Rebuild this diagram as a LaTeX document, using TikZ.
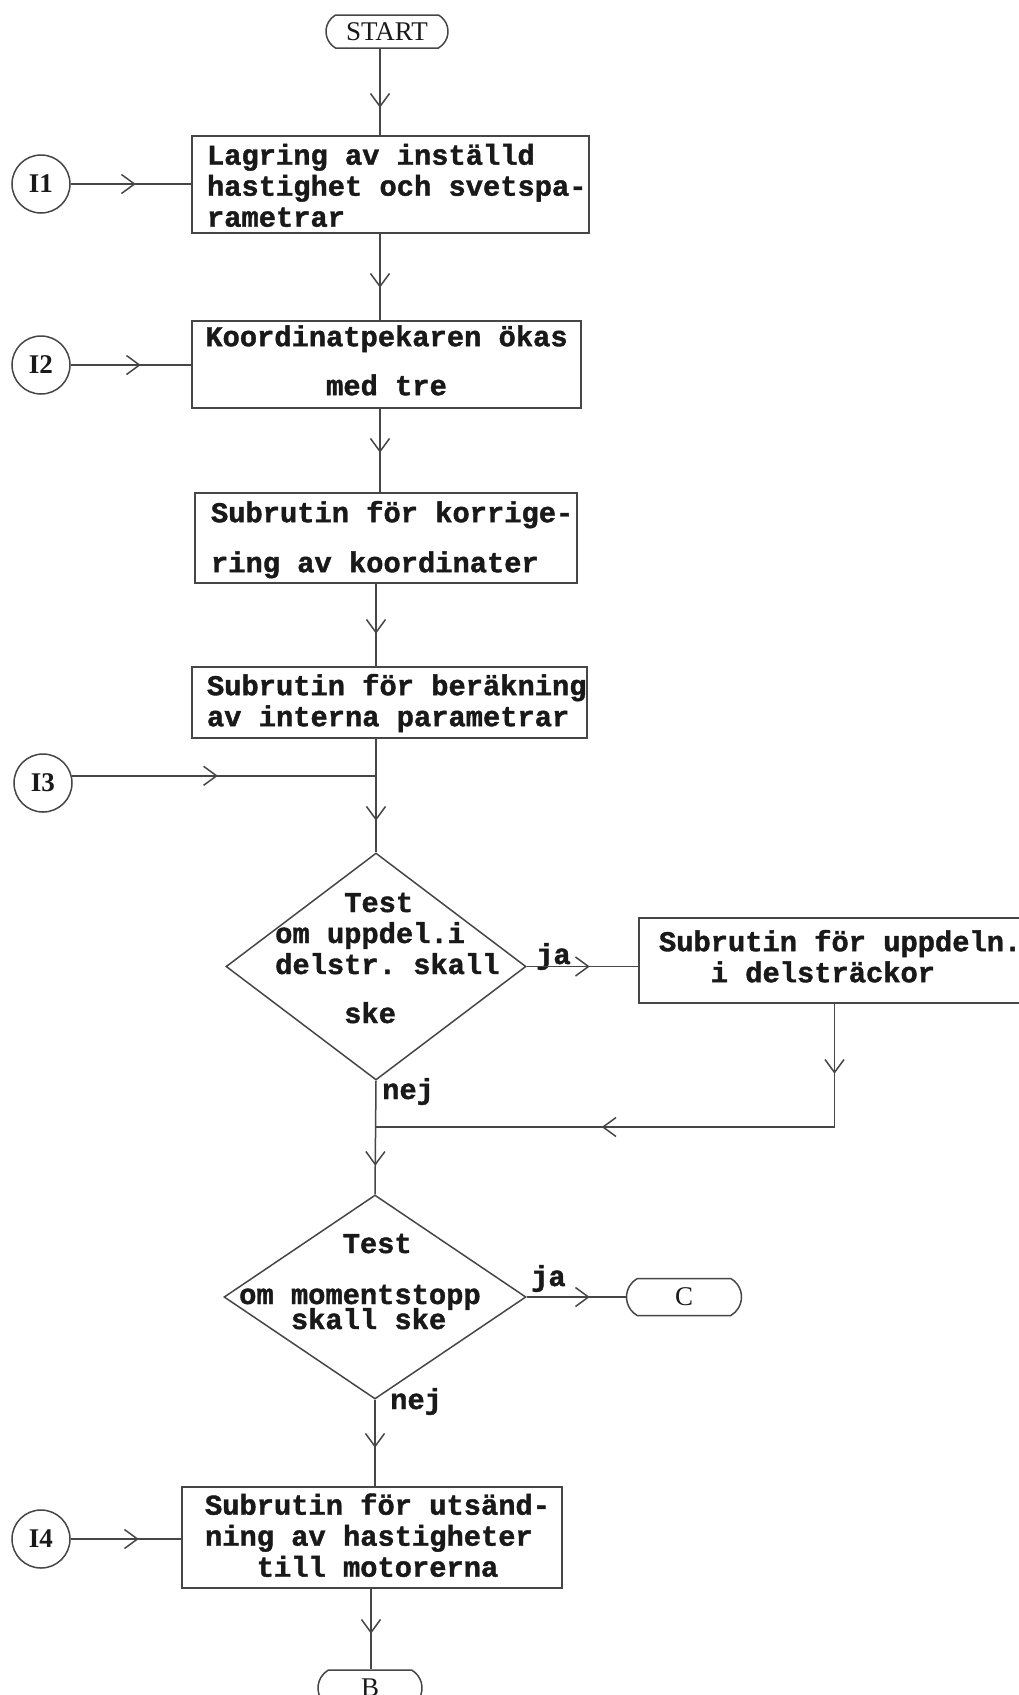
\documentclass[tikz,border=0pt]{standalone}
\usepackage{fontspec}
\setmainfont{Liberation Serif}
\newfontfamily\typewriter{Liberation Mono}[BoldFeatures={FakeBold=1.4}]
\usetikzlibrary{arrows.meta,decorations.markings,shapes.geometric,shapes.misc}

\definecolor{ink}{RGB}{25,25,25}
\definecolor{rule}{RGB}{70,70,70}

% width of one typewriter character
\newlength{\cw}\setlength{\cw}{17.25pt}
% fixed-width block of left-aligned lines with a left indent
\newcommand{\leftblock}[3]{\makebox[#1][l]{\hspace*{#2}\begin{tabular}{@{}l@{}}#3\end{tabular}}}
% same, with the lines lowered a little inside the box
\newcommand{\lowblock}[4]{\raisebox{-#4}[\height][\depth]{\leftblock{#1}{#2}{#3}}}
% fixed-width block of centred lines
\newcommand{\midblock}[2]{\makebox[#1][c]{\begin{tabular}{@{}c@{}}#2\end{tabular}}}
% lines hanging from the baseline of the first one
\newcommand{\topblock}[1]{\begin{tabular}[t]{@{}l@{}}#1\end{tabular}}

\tikzset{
  tw/.style={font=\typewriter\bfseries\fontsize{28.75}{31}\selectfont\frenchspacing, text=ink},
  procbox/.style={draw=rule, line width=1.5pt, rectangle, inner sep=0pt, tw},
  decision/.style={draw=rule, line width=1.5pt, diamond, inner sep=0pt},
  terminal/.style={draw=rule, line width=1.5pt, rounded rectangle,
    rounded rectangle arc length=120, inner sep=0pt, text=ink,
    font=\fontsize{27}{30}\selectfont},
  connector/.style={draw=rule, line width=1.5pt, circle, inner sep=0pt,
    minimum size=58pt, text=ink, font=\bfseries\fontsize{27}{30}\selectfont},
  flow/.style={draw=rule, line width=1.5pt},
  arr/.style={postaction={decorate}, decoration={markings,
    mark=at position #1 with {\arrow{Straight Barb[length=13pt,width=19pt]}}}},
  arrtwo/.style 2 args={postaction={decorate}, decoration={markings,
    mark=at position #1 with {\arrow{Straight Barb[length=13pt,width=19pt]}},
    mark=at position #2 with {\arrow{Straight Barb[length=13pt,width=19pt]}}}},
  branch/.style={tw, anchor=base west, inner sep=0pt},
}

\begin{document}
\begin{tikzpicture}[x=1pt,y=-1pt]
\useasboundingbox (0,0) rectangle (1019,1695);
\fill[white] (0,0) rectangle (1019,1695);
\clip (0,0) rectangle (1019,1695);

% terminals
\node[terminal, minimum width=122pt, minimum height=33pt] (start) at (387,31.5) {START};
\node[terminal, minimum width=115pt, minimum height=37pt] (c) at (684,1297) {C};
\node[terminal, minimum width=104pt, minimum height=36pt] (b) at (370,1688) {B};

% process boxes
\node[procbox, minimum height=97pt] (b1) at (390.5,184.5)
  {\lowblock{397pt}{15pt}{Lagring av inställd\\hastighet och svetspa-\\rametrar}{5pt}};
\node[procbox, minimum height=87pt] (b2) at (386.5,364.5)
  {\midblock{389pt}{Koordinatpekaren ökas\\[18pt]med tre}};
\node[procbox, minimum height=90pt] (b3) at (386,538)
  {\lowblock{382pt}{16pt}{Subrutin för korrige-\\[19pt]ring av koordinater}{3pt}};
\node[procbox, minimum height=71pt] (b4) at (389.5,702.5)
  {\lowblock{395pt}{15pt}{Subrutin för beräkning\\av interna parametrar}{2pt}};
\node[procbox, minimum height=85pt] (b6) at (834.5,960.5)
  {\leftblock{391pt}{20pt}{Subrutin för uppdeln.\\\hspace*{3\cw}i delsträckor}};
\node[procbox, minimum height=101pt] (b5) at (372,1537.5)
  {\lowblock{380pt}{23pt}{Subrutin för utsänd-\\ning av hastigheter\\\hspace*{3\cw}till motorerna}{2pt}};

% decisions
\node[decision, minimum width=300pt, minimum height=227pt] (d1) at (376,966.5) {};
\node[tw, anchor=base west, inner sep=0pt] (d1text) at (275,912)
  {\topblock{\hspace*{4\cw}Test\\om uppdel.i\\delstr. skall\\[18pt]\hspace*{4\cw}ske}};
\node[decision, minimum width=302pt, minimum height=204pt] (d2) at (375,1297) {};
\node[tw, anchor=base west, inner sep=0pt] (d2text) at (239,1253)
  {\topblock{\hspace*{6\cw}Test\\[20pt]om momentstopp\\[-6pt]\hspace*{3\cw}skall ske}};

% entry points
\node[connector] (i1) at (41,184) {I1};
\node[connector] (i2) at (41,365) {I2};
\node[connector] (i3) at (43,783) {I3};
\node[connector] (i4) at (41,1539) {I4};

% branch labels
\node[branch] (ja1) at (536,964) {ja};
\node[branch] (nej1) at (382,1099) {nej};
\node[branch] (ja2) at (531,1286) {ja};
\node[branch] (nej2) at (390,1409) {nej};

% main flow line positions
\coordinate (upper) at (380,0);
\coordinate (middle) at (376,0);
\coordinate (lower) at (371,0);
\coordinate (join3) at (i3.14 -| middle);
\coordinate (merge) at (376,1127);

% connectors
\draw[flow, arr=59pt] (start.south -| upper) -- (b1.north -| upper);
\draw[flow, arr=54pt] (b1.south -| upper) -- (b2.north -| upper);
\draw[flow, arr=44pt] (b2.south -| upper) -- (b3.north -| upper);
\draw[flow, arr=50pt] (b3.south -| middle) -- (b4.north -| middle);
\draw[flow, arr=82pt] (b4.south -| middle) -- (d1.north);
\draw[flow, arr=65pt] (i1) -- (b1.west |- i1);
\draw[flow, arr=70pt] (i2) -- (b2.west |- i2);
\draw[flow, arr=146pt] (i3.14) -- (join3);
\draw[flow, arr=68pt] (i4) -- (b5.west |- i4);
\draw[flow, arr=63pt] (d1.east) -- (b6.west |- d1.east);
\draw[flow, arrtwo={70pt}{356pt}] (b6.south) -- (b6.south |- merge) -- (merge);
\draw[flow, arr=85pt] (d1.south) -- (d2.north);
\draw[flow, arr=63pt] (d2.east) -- (c.west);
\draw[flow, arr=48pt] (d2.south) -- (d2.south |- b5.north);
\draw[flow, arr=45pt] (b5.south -| lower) -- (b.north -| lower);
\end{tikzpicture}
\end{document}
